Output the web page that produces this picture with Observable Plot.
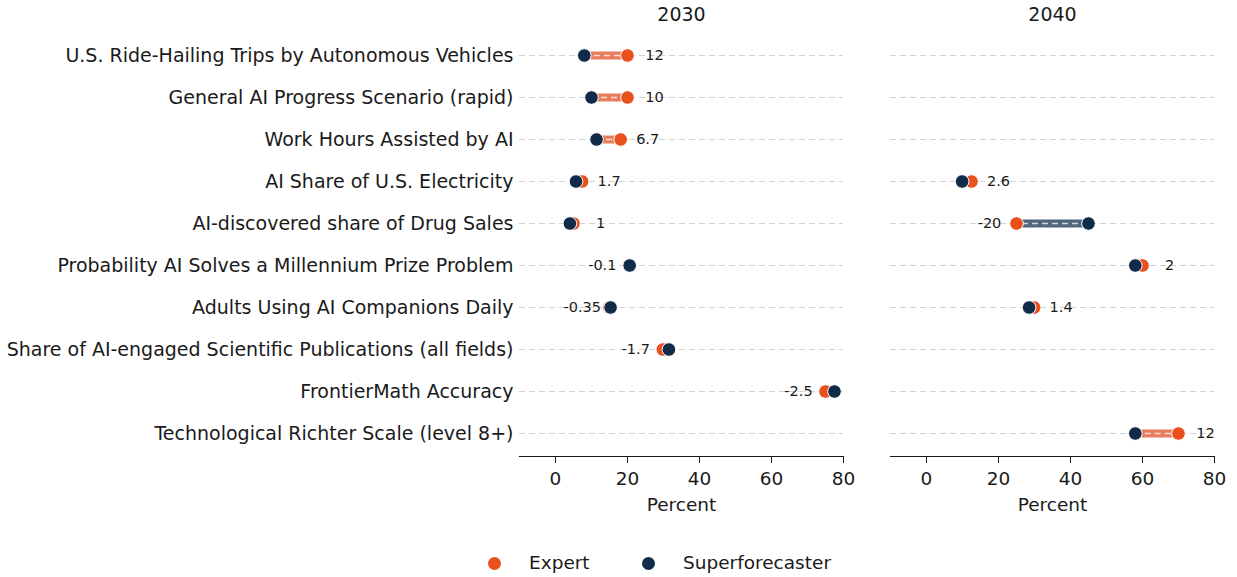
<!DOCTYPE html>
<html>
<head>
<meta charset="utf-8">
<script src="https://cdn.jsdelivr.net/npm/d3@7"></script>
<script src="https://cdn.jsdelivr.net/npm/@observablehq/plot@0.6"></script>
<style>
  body { margin: 0; background: #fff; font-family: "DejaVu Sans", sans-serif; }
  #chart { position: relative; width: 1237px; }
  .legend { position: relative; width: 1237px; height: 52px; font-size: 18.5px; color: #1a1a1a; }
  .legend .sw { position: absolute; width: 13px; height: 13px; border-radius: 50%; top: 32px; }
  .legend .lb { position: absolute; top: 27px; line-height: 22px; }
</style>
</head>
<body>
<div id="chart"></div>
<script>
const metrics = [
  "U.S. Ride-Hailing Trips by Autonomous Vehicles",
  "General AI Progress Scenario (rapid)",
  "Work Hours Assisted by AI",
  "AI Share of U.S. Electricity",
  "AI-discovered share of Drug Sales",
  "Probability AI Solves a Millennium Prize Problem",
  "Adults Using AI Companions Daily",
  "Share of AI-engaged Scientific Publications (all fields)",
  "FrontierMath Accuracy",
  "Technological Richter Scale (level 8+)"
];
const years = ["2030", "2040"];

const expert2030 = [20, 20, 18.1, 7.4, 5, 20.5, 14.95, 29.8, 75.0, null];
const sf2030     = [8, 10, 11.4, 5.7, 4, 20.6, 15.3, 31.5, 77.5, null];
const diff2030   = [12, 10, 6.7, 1.7, 1, -0.1, -0.35, -1.7, -2.5, null];

const expert2040 = [null, null, null, 12.5, 25, 60, 29.9, null, null, 70];
const sf2040     = [null, null, null, 9.9, 45, 58, 28.5, null, null, 58];
const diff2040   = [null, null, null, 2.6, -20, 2, 1.4, null, null, 12];

const xTicks = [0, 20, 40, 60, 80];

const EXPERT = "#e8501e";
const SF = "#112c49";
const POS = "#ea7c5e";
const NEG = "#51677d";

const rows = [];
metrics.forEach((m, i) => {
  [[years[0], expert2030, sf2030, diff2030], [years[1], expert2040, sf2040, diff2040]].forEach(([yr, e, s, d]) => {
    if (e[i] != null && s[i] != null) rows.push({metric: m, year: yr, expert: e[i], sf: s[i], diff: d[i]});
  });
});
const pos = rows.filter(d => d.diff > 0);
const neg = rows.filter(d => d.diff < 0);

const plot = Plot.plot({
  width: 1237,
  height: 525,
  marginLeft: 519,
  marginRight: 23,
  marginTop: 31,
  marginBottom: 69,
  style: {fontFamily: "DejaVu Sans, sans-serif", color: "#1a1a1a", background: "#fff"},
  fx: {domain: years, paddingInner: 0.127, paddingOuter: 0, label: null},
  x: {domain: [-10, 80], ticks: xTicks, label: null},
  y: {domain: metrics, range: [52, 436], padding: 0, label: null},
  color: {type: "identity"},
  marks: [
    Plot.ruleY(metrics, {y: d => d, stroke: "#d2d2d2", strokeWidth: 1.2, strokeDasharray: "6,4"}),
    Plot.ruleY(rows, {fx: "year", y: "metric", x1: "sf", x2: "expert", stroke: d => d.diff > 0 ? POS : NEG, strokeWidth: 8}),
    Plot.ruleY(rows, {fx: "year", y: "metric", x1: "sf", x2: "expert", stroke: "#ffffff", strokeOpacity: 0.75, strokeWidth: 1.3, strokeDasharray: "6,4"}),
    Plot.dot(rows, {fx: "year", y: "metric", x: "expert", r: 6.8, fill: EXPERT, stroke: "#fff", strokeWidth: 1}),
    Plot.dot(rows, {fx: "year", y: "metric", x: "sf", r: 6.8, fill: SF, stroke: "#fff", strokeWidth: 1}),
    Plot.text(pos, {fx: "year", y: "metric", x: d => Math.max(d.expert, d.sf), text: d => String(d.diff), dx: 27, textAnchor: "middle", fontSize: 14.5, fill: "#1a1a1a"}),
    Plot.text(neg, {fx: "year", y: "metric", x: d => Math.min(d.expert, d.sf), text: d => String(d.diff), dx: -27, textAnchor: "middle", fontSize: 14.5, fill: "#1a1a1a"}),
    Plot.frame({anchor: "bottom", stroke: "#1a1a1a", strokeWidth: 1.2}),
    Plot.axisX({ticks: xTicks, tickSize: 7, tickPadding: 8, fontSize: 18.5, label: null, stroke: "#1a1a1a"}),
    Plot.text(["Percent"], {frameAnchor: "bottom", lineAnchor: "middle", dy: 49, fontSize: 18.5, fill: "#1a1a1a"}),
    Plot.axisY({tickSize: 0, tickPadding: 6, fontSize: 19, label: null}),
    Plot.axisFx({anchor: "top", tickSize: 0, tickPadding: 11, fontSize: 19, label: null})
  ]
});
document.getElementById("chart").appendChild(plot);

const legend = document.createElement("div");
legend.className = "legend";
legend.innerHTML =
  `<span class="sw" style="left:488px;background:${EXPERT}"></span><span class="lb" style="left:529px">Expert</span>` +
  `<span class="sw" style="left:642px;background:${SF}"></span><span class="lb" style="left:683px">Superforecaster</span>`;
document.getElementById("chart").appendChild(legend);
</script>
</body>
</html>
